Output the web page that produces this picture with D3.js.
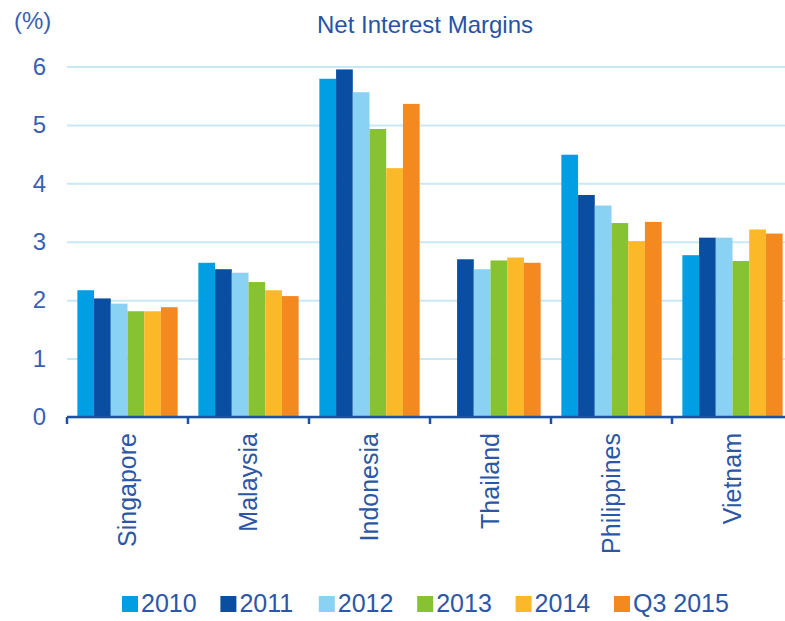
<!DOCTYPE html>
<html>
<head>
<meta charset="utf-8">
<script src="https://cdn.jsdelivr.net/npm/d3@7"></script>
<style>
	body { margin: 0; background: #fff; }
	text { font-family: 'Liberation Sans', Arial, sans-serif; }
</style>
</head>
<body>
<svg id="chart" width="785" height="621"></svg>
<script>
// NOTE data
const categories = ['Singapore', 'Malaysia', 'Indonesia', 'Thailand', 'Philippines', 'Vietnam'];
const seriesNames = ['2010', '2011', '2012', '2013', '2014', 'Q3 2015'];
const v2010 = [2.17, 2.64, 5.79, null, 4.49, 2.77];
const v2011 = [2.03, 2.53, 5.95, 2.7, 3.8, 3.07];
const v2012 = [1.94, 2.47, 5.56, 2.53, 3.62, 3.07];
const v2013 = [1.81, 2.31, 4.93, 2.68, 3.32, 2.67];
const v2014 = [1.81, 2.17, 4.26, 2.73, 3.01, 3.21];
const vQ32015 = [1.88, 2.07, 5.36, 2.64, 3.34, 3.14];
const yTicks = [0, 1, 2, 3, 4, 5, 6];

const seriesValues = [v2010, v2011, v2012, v2013, v2014, vQ32015];
const colors = ['#009fe3', '#0a4ea2', '#8ad2f4', '#86c232', '#fbb92a', '#f48a1f'];
const textColor = '#2c56a6';

var svg = d3.select('#chart');
var plotLeft = 67,
	plotRight = 793,
	plotTop = 66.5,
	plotBottom = 417;

var x0 = d3.scaleBand().domain(categories).range([plotLeft, plotRight]).padding(0);
var x1 = d3
	.scaleBand()
	.domain(seriesNames)
	.range([0, x0.bandwidth()])
	.paddingInner(0)
	.paddingOuter(0.62);
var y = d3.scaleLinear().domain([0, 6]).range([plotBottom, plotTop]);

// gridlines + y labels
var yAxis = svg
	.append('g')
	.attr('transform', 'translate(' + plotLeft + ',0)')
	.call(
		d3
			.axisLeft(y)
			.tickValues(yTicks)
			.tickFormat(d3.format('d'))
			.tickSize(-(785 - plotLeft))
			.tickPadding(21)
	);
yAxis.select('.domain').remove();
yAxis.selectAll('line').attr('stroke', '#c8e8f6').attr('stroke-width', 2);
yAxis
	.selectAll('text')
	.attr('fill', '#3a5fb2')
	.attr('font-size', 24)
	.attr('font-family', "'Liberation Sans', Arial, sans-serif");

// bars
var rows = [];
categories.forEach(function (c, i) {
	seriesNames.forEach(function (s, j) {
		if (seriesValues[j][i] != null) {
			rows.push({ cat: c, name: s, value: seriesValues[j][i], idx: j });
		}
	});
});

svg
	.append('g')
	.selectAll('rect')
	.data(rows)
	.enter()
	.append('rect')
	.attr('x', function (d) {
		return x0(d.cat) + x1(d.name);
	})
	.attr('y', function (d) {
		return y(d.value);
	})
	.attr('width', x1.bandwidth())
	.attr('height', function (d) {
		return y(0) - y(d.value);
	})
	.attr('fill', function (d) {
		return colors[d.idx];
	});

// x axis line and ticks at category boundaries
svg
	.append('line')
	.attr('x1', plotLeft)
	.attr('x2', 785)
	.attr('y1', y(0))
	.attr('y2', y(0))
	.attr('stroke', '#1f50a2')
	.attr('stroke-width', 2.5);

svg
	.append('g')
	.selectAll('line')
	.data(categories)
	.enter()
	.append('line')
	.attr('x1', function (d) {
		return x0(d);
	})
	.attr('x2', function (d) {
		return x0(d);
	})
	.attr('y1', y(0))
	.attr('y2', y(0) + 7)
	.attr('stroke', '#1f50a2')
	.attr('stroke-width', 2.5);

// category labels, rotated
svg
	.append('g')
	.selectAll('text')
	.data(categories)
	.enter()
	.append('text')
	.attr('transform', function (d) {
		return 'translate(' + (x0(d) + x0.bandwidth() / 2) + ',433) rotate(-90)';
	})
	.attr('text-anchor', 'end')
	.attr('dy', '0.35em')
	.attr('font-size', 25)
	.attr('fill', textColor)
	.text(function (d) {
		return d;
	});

// title and unit
svg
	.append('text')
	.attr('x', 425)
	.attr('y', 33)
	.attr('text-anchor', 'middle')
	.attr('font-size', 24)
	.attr('fill', '#2753a4')
	.text('Net Interest Margins');

svg
	.append('text')
	.attr('x', 14)
	.attr('y', 29)
	.attr('font-size', 24)
	.attr('fill', '#3a5fb2')
	.text('(%)');

// legend
var legend = svg
	.append('g')
	.selectAll('g')
	.data(seriesNames)
	.enter()
	.append('g')
	.attr('transform', function (d, i) {
		return 'translate(' + (122 + i * 98.4) + ',596)';
	});

legend
	.append('rect')
	.attr('width', 16)
	.attr('height', 16)
	.attr('fill', function (d, i) {
		return colors[i];
	});

legend
	.append('text')
	.attr('x', 19)
	.attr('y', 15.5)
	.attr('font-size', 25)
	.attr('fill', textColor)
	.text(function (d) {
		return d;
	});
</script>
</body>
</html>
